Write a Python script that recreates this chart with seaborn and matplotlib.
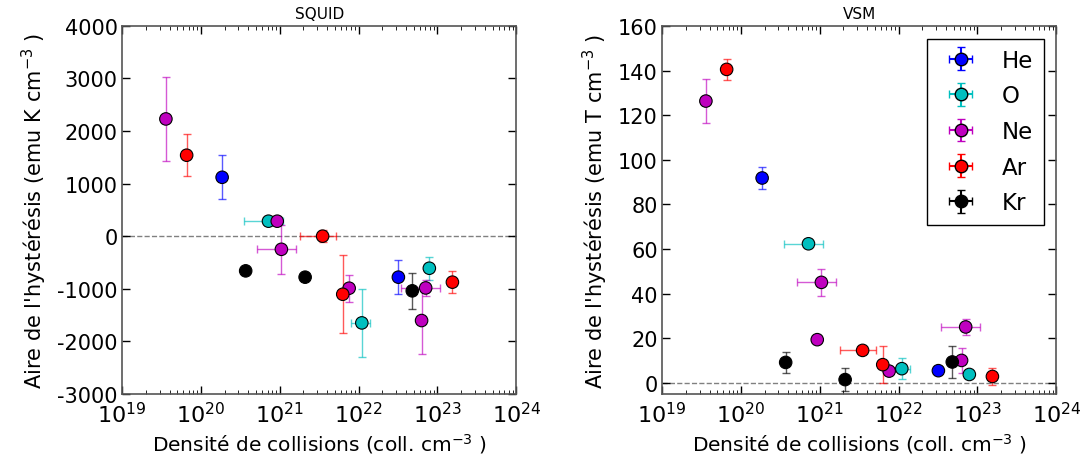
import numpy as np
import pandas as pd
import seaborn as sns
import matplotlib.pyplot as plt

# Gas labels and colours
gases = ['He', 'O', 'Ne', 'Ar', 'Kr']
colors = ['#0000ff', '#00bfbf', '#bf00bf', '#ff0000', '#000000']

# Collision density (coll. cm^-3) and its error, per gas
dens = {
    'He': [1.86e20, 3.2e22],
    'O': [7.2e20, 1.1e22, 7.9e22],
    'Ne': [3.6e19, 9.3e20, 1.05e21, 7.6e21, 6.3e22, 7.1e22],
    'Ar': [6.6e19, 3.5e21, 6.3e21, 1.55e23],
    'Kr': [3.7e20, 2.1e21, 4.8e22],
}
dens_err = {
    'He': [0, 0],
    'O': [3.7e20, 2.9e21, 0],
    'Ne': [0, 0, 5.4e20, 0, 0, 3.6e22],
    'Ar': [0, 1.7e21, 0, 0],
    'Kr': [0, 0, 0],
}

# SQUID hysteresis area (emu K cm^-3)
squid = {
    'He': [1120, -780],
    'O': [285, -1650, -610],
    'Ne': [2230, 285, -250, -990, -1605, -985],
    'Ar': [1540, 0, -1105, -875],
    'Kr': [-660, -780, -1040],
}
squid_err = {
    'He': [420, 320],
    'O': [0, 640, 220],
    'Ne': [800, 0, 470, 260, 640, 145],
    'Ar': [400, 110, 740, 215],
    'Kr': [0, 0, 345],
}

# VSM hysteresis area (emu T cm^-3)
vsm = {
    'He': [91.8, 5.4],
    'O': [62.3, 6.3, 3.7],
    'Ne': [126.3, 19.3, 45.0, 5.2, 10.0, 25.0],
    'Ar': [140.5, 14.5, 8.1, 2.8],
    'Kr': [9.1, 1.4, 9.3],
}
vsm_err = {
    'He': [4.9, 1.0],
    'O': [1.0, 4.8, 0],
    'Ne': [10.0, 0, 5.9, 1.0, 5.5, 3.4],
    'Ar': [4.8, 1.0, 8.3, 3.7],
    'Kr': [4.7, 5.0, 7.3],
}

sns.set_style('ticks', {'xtick.direction': 'in', 'ytick.direction': 'in',
                        'axes.edgecolor': '#555555', 'text.color': 'black',
                        'axes.labelcolor': 'black', 'xtick.color': 'black',
                        'ytick.color': 'black'})
plt.rcParams['font.family'] = ['DejaVu Sans']
plt.rcParams['axes.unicode_minus'] = False
plt.rcParams['xtick.top'] = True
plt.rcParams['ytick.right'] = True

fig = plt.figure(figsize=(10.8, 4.64), dpi=100)
ax1 = fig.add_axes([0.113, 0.149, 0.365, 0.793])
ax2 = fig.add_axes([0.613, 0.149, 0.365, 0.793])

ms = 9
panels = [(ax1, squid, squid_err, 'SQUID', "Aire de l'hystérésis (emu K cm$^{-3}$ )",
           (-3000, 4000), np.arange(-3000, 4001, 1000)),
          (ax2, vsm, vsm_err, 'VSM', "Aire de l'hystérésis (emu T cm$^{-3}$ )",
           (-5, 160), np.arange(0, 161, 20))]

for ax, vals, errs, title, ylabel, ylim, yticks in panels:
    ax.axhline(0, color='grey', ls='--', lw=1, zorder=0)
    rows = []
    for g, c in zip(gases, colors):
        ax.errorbar(dens[g], vals[g], xerr=dens_err[g], yerr=errs[g], fmt='none',
                    ecolor=c, elinewidth=1, capsize=3, alpha=0.65, zorder=1)
        for x, y in zip(dens[g], vals[g]):
            rows.append({'x': x, 'y': y, 'gas': g})
    df = pd.DataFrame(rows)
    sns.scatterplot(data=df, x='x', y='y', hue='gas', hue_order=gases, palette=colors,
                    s=ms ** 2, edgecolor='black', linewidth=0.8, legend=False, zorder=3, ax=ax)
    ax.set_xscale('log')
    ax.set_xlim(1e19, 1e24)
    ax.set_ylim(*ylim)
    ax.set_yticks(yticks)
    ax.set_title(title, fontsize=11, color='black')
    ax.set_xlabel('Densité de collisions (coll. cm$^{-3}$ )', fontsize=14.5, labelpad=4)
    ax.set_ylabel(ylabel, fontsize=15, labelpad=6)
    ax.tick_params(axis='y', which='major', labelsize=15, length=6, width=1, pad=3)
    ax.tick_params(axis='x', which='major', labelsize=16, length=6, width=1, pad=5)
    ax.tick_params(axis='x', which='minor', length=3, top=True, direction='in')
    for s in ax.spines.values():
        s.set_linewidth(1.2)

# legend proxies (errorbar style handles)
handles = []
for g, c in zip(gases, colors):
    h = ax2.errorbar([np.nan], [np.nan], xerr=[1], yerr=[1], fmt='o', ms=ms,
                     mfc=c, mec='black', ecolor=c, capsize=3, label=g)
    handles.append(h)
leg = ax2.legend(handles=handles, loc='upper right', fontsize=16.5, numpoints=1,
                 fancybox=False, edgecolor='black', framealpha=1, borderpad=0.45,
                 handletextpad=0.8, labelspacing=0.55, borderaxespad=0.55)
leg.get_frame().set_linewidth(1)

fig.savefig('out.png', dpi=100, facecolor='white')
